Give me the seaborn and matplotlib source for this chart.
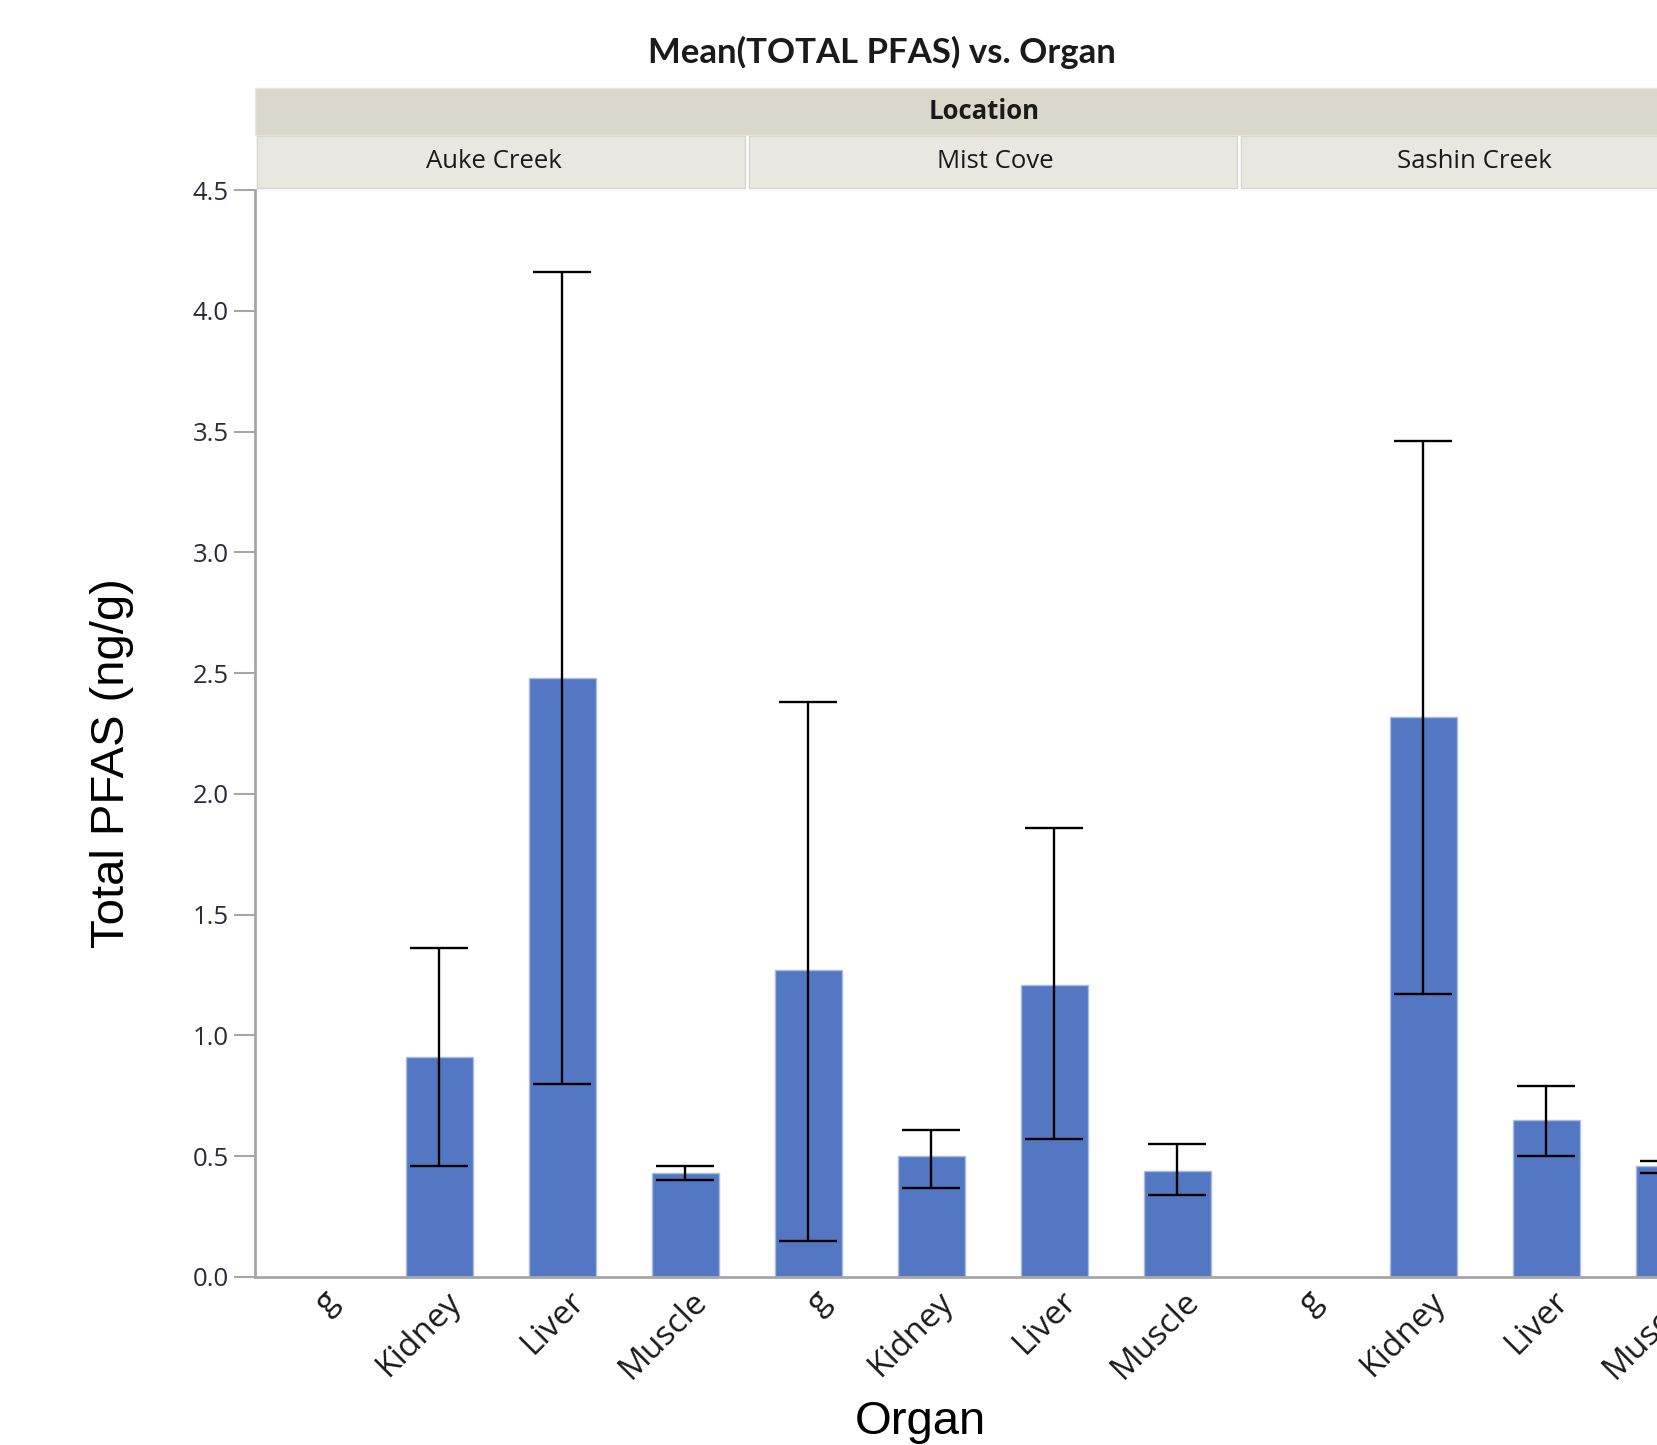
import numpy as np
import pandas as pd
import matplotlib
matplotlib.use("Agg")
import matplotlib.pyplot as plt
import matplotlib.transforms as mtransforms
from matplotlib.patches import Rectangle
import seaborn as sns

# ---- data ----
locations = ["Auke Creek", "Mist Cove", "Sashin Creek"]
organs = ["g", "Kidney", "Liver", "Muscle"]
mean_auke = [np.nan, 0.91, 2.48, 0.43]
mean_mist = [1.27, 0.50, 1.21, 0.44]
mean_sashin = [np.nan, 2.32, 0.65, 0.46]
upper_auke = [np.nan, 1.36, 4.16, 0.46]
upper_mist = [2.38, 0.61, 1.86, 0.55]
upper_sashin = [np.nan, 3.46, 0.79, 0.48]
lower_auke = [np.nan, 0.46, 0.80, 0.40]
lower_mist = [0.15, 0.37, 0.57, 0.34]
lower_sashin = [np.nan, 1.17, 0.50, 0.43]
y_ticks = [0.0, 0.5, 1.0, 1.5, 2.0, 2.5, 3.0, 3.5, 4.0, 4.5]

means = [mean_auke, mean_mist, mean_sashin]
uppers = [upper_auke, upper_mist, upper_sashin]
lowers = [lower_auke, lower_mist, lower_sashin]

rows = []
for li, loc in enumerate(locations):
    for oi, org in enumerate(organs):
        rows.append({"key": f"{loc}|{org}", "Location": loc, "Organ": org,
                     "mean": means[li][oi], "upper": uppers[li][oi], "lower": lowers[li][oi]})
df = pd.DataFrame(rows)
order = list(df["key"])
df_bars = df.dropna(subset=["mean"])

# ---- figure ----
sns.set_theme(style="white")
plt.rcParams['font.family'] = ['Open Sans', 'DejaVu Sans']

W, H = 1658, 1445
fig = plt.figure(figsize=(W / 100, H / 100), dpi=100)
ax_left, ax_right, ax_top, ax_bot = 255, 1731, 190, 1277
ax = fig.add_axes([ax_left / W, 1 - ax_bot / H, (ax_right - ax_left) / W, (ax_bot - ax_top) / H])

bar_color = "#5477C4"
sns.barplot(data=df_bars, x="key", y="mean", order=order, color=bar_color,
            width=0.55, errorbar=None, saturation=1, ax=ax,
            edgecolor="#A9BCE6", linewidth=1.0)

xpos = np.array([order.index(k) for k in df_bars["key"]])
yerr = np.vstack([df_bars["mean"] - df_bars["lower"], df_bars["upper"] - df_bars["mean"]])
ax.errorbar(xpos, df_bars["mean"], yerr=yerr, fmt="none", ecolor="black",
            elinewidth=1.7, capsize=21, capthick=1.7, zorder=5)

ax.set_xlim(-0.5, len(order) - 0.5)
ax.set_ylim(0, 4.5)
ax.set_yticks(y_ticks)
ax.set_yticklabels([f"{v:.1f}" for v in y_ticks], fontsize=18.5, color="#2a2a3a")
# invisible ticks; labels nudged right of each bar centre as in the reference
ax.set_xticks(np.arange(len(order)) + 0.14)
ax.set_xticklabels(list(df["Organ"]), rotation=45, ha="right", va="center",
                   rotation_mode="anchor", fontsize=24, color="#1a1a1a")

ax.set_xlabel("")
ax.set_ylabel("")
for s in ["top", "right"]:
    ax.spines[s].set_visible(False)
for s in ["left", "bottom"]:
    ax.spines[s].set_color("#a6a6a6")
    ax.spines[s].set_linewidth(2)
ax.tick_params(axis="y", length=15, width=1.5, color="#a6a6a6", pad=4, left=True)
ax.tick_params(axis="x", length=0, pad=14)

# ---- headers ----
trans = mtransforms.blended_transform_factory(ax.transData, ax.transAxes)
ah = ax_bot - ax_top
def yf(py):
    return (ax_bot - py) / ah

sub_bot, sub_top = yf(188), yf(136)
loc_bot, loc_top = yf(135), yf(88)
ax.add_patch(Rectangle((-0.5, loc_bot), 12, loc_top - loc_bot, transform=trans,
                       facecolor="#DAD8CA", edgecolor="#e8e8e0", lw=1, clip_on=False))
ax.text(5.43, (loc_bot + loc_top) / 2, "Location", transform=trans, ha="center", va="center",
        fontsize=18.5, fontweight="bold", color="#1a1a1a", clip_on=False)
label_x = [1.44, 5.52, 9.41]
for li, loc in enumerate(locations):
    x0 = -0.5 + 4 * li
    ax.add_patch(Rectangle((x0 + 0.02, sub_bot), 4 - 0.04, sub_top - sub_bot, transform=trans,
                           facecolor="#E8E8E0", edgecolor="#d6d6cc", lw=1, clip_on=False))
    ax.text(label_x[li], (sub_bot + sub_top) / 2, loc, transform=trans, ha="center", va="center",
            fontsize=18.5, color="#1a1a1a", clip_on=False)

fig.text(882 / W, 1 - 52 / H, "Mean(TOTAL PFAS) vs. Organ", ha="center", va="center",
         fontsize=25, fontweight="bold", color="#1a1a1a", family=["Lato", "DejaVu Sans"])
fig.text(112 / W, 1 - 763 / H, "Total PFAS (ng/g)", rotation=90, ha="center", va="center",
         fontsize=34, color="black", family=["Liberation Sans", "DejaVu Sans"])
fig.text(920 / W, 1 - 1422 / H, "Organ", ha="center", va="center",
         fontsize=34, color="black", family=["Liberation Sans", "DejaVu Sans"])

fig.savefig("out.png", dpi=100, facecolor="white")
